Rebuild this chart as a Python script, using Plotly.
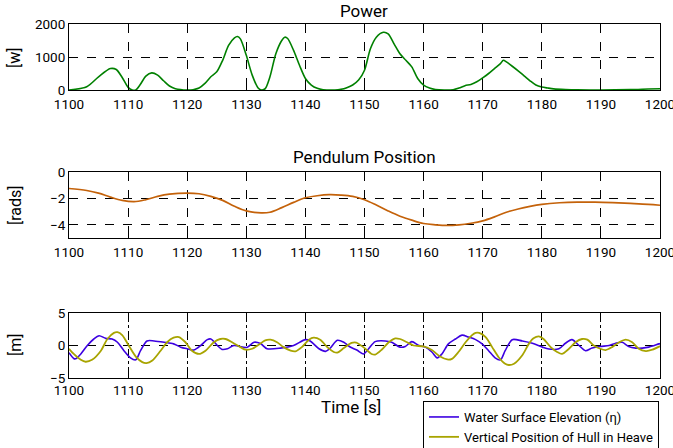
import plotly.graph_objects as go

# ---------------- data ----------------
power_t = [1100, 1103, 1105, 1107, 1108, 1109, 1110, 1110.7, 1111.3, 1112, 1113, 1114, 1115, 1116, 1117, 1118,
           1120, 1121, 1122, 1123, 1124, 1125, 1126, 1127, 1128, 1128.5, 1129, 1130, 1131, 1132, 1132.6, 1133.2,
           1134, 1135, 1136, 1136.5, 1137, 1138, 1139, 1140, 1141, 1142, 1143, 1145, 1146, 1147, 1148, 1149,
           1150, 1151, 1152, 1153.2, 1154, 1155, 1156, 1157, 1158, 1159, 1160, 1161, 1162, 1163.5, 1165, 1166,
           1167, 1168, 1169, 1170, 1171, 1172, 1173, 1173.5, 1174, 1175, 1176, 1177, 1178, 1179, 1180, 1181,
           1182, 1184, 1186, 1190, 1195, 1198, 1200]
power_w = [0, 100, 400, 650, 620, 380, 80, 0, 0, 150, 420, 520, 450, 280, 120, 40,
           0, 10, 60, 200, 400, 550, 900, 1350, 1580, 1620, 1550, 1050, 450, 60, 0, 40,
           400, 1100, 1500, 1600, 1560, 1200, 750, 350, 150, 50, 10, 0, 20, 70, 150, 300,
           600, 1250, 1600, 1750, 1700, 1400, 1100, 900, 700, 350, 150, 60, 15, 0, 10, 60,
           130, 170, 250, 370, 500, 650, 800, 900, 850, 720, 580, 430, 280, 150, 90, 60,
           35, 15, 5, 0, 10, 30, 40]

pend_t = [1100, 1103, 1105, 1107, 1109, 1111, 1113, 1115, 1117, 1120, 1122, 1124, 1126, 1128, 1130, 1132.5,
          1134, 1136, 1138, 1140, 1142, 1144, 1146, 1148, 1150, 1152, 1154, 1156, 1158, 1160, 1162, 1164,
          1166, 1168, 1170, 1172, 1174, 1176, 1178, 1180, 1183, 1186, 1189, 1192, 1195, 1198, 1200]
pend_rad = [-1.25, -1.4, -1.6, -1.9, -2.15, -2.25, -2.1, -1.85, -1.68, -1.6, -1.65, -1.85, -2.15, -2.6, -2.95, -3.1,
            -3.05, -2.7, -2.3, -1.95, -1.8, -1.72, -1.75, -1.85, -2.1, -2.5, -2.95, -3.35, -3.65, -3.9, -4.0, -4.05,
            -4.0, -3.88, -3.7, -3.4, -3.05, -2.8, -2.6, -2.45, -2.33, -2.28, -2.28, -2.32, -2.38, -2.45, -2.52]

wave_t = [1100, 1100.8, 1101.1, 1102, 1103.1, 1104.2, 1105.1, 1106.2, 1107.3, 1108.2, 1109.3, 1110.4, 1111.3,
          1112.1, 1113.2, 1114.4, 1116.1, 1117.7, 1118.9, 1120, 1121.1, 1122.3, 1123.4, 1124, 1125.1, 1125.9,
          1126.8, 1127.9, 1130.1, 1131.3, 1132.4, 1133.5, 1135.8, 1138, 1140, 1140.8, 1142.3, 1143.4, 1144.2,
          1145.4, 1146.5, 1147.5, 1148.7, 1149.8, 1150.7, 1151.8, 1153.5, 1154.6, 1156, 1156.9, 1158, 1159.2,
          1160.3, 1161.4, 1162.3, 1163.1, 1164.2, 1165.4, 1166.5, 1167.6, 1168.8, 1169.9, 1171, 1172.1, 1173,
          1173.8, 1175, 1176.7, 1178.4, 1180.1, 1181.2, 1182.9, 1184, 1185.1, 1186.3, 1187.4, 1188.5, 1189.9,
          1191.4, 1192.5, 1193.6, 1194.7, 1195.9, 1197, 1198.1, 1199.8, 1200]
wave_m = [-1.1, -2.0, -2.05, -1.3, 0.0, 1.0, 1.5, 1.1, 1.0, 0.5, -0.8, -1.9, -2.2,
          -0.8, 0.7, 0.7, 0.5, 0.25, -0.25, -0.5, -0.7, 0.0, 0.9, 1.0, 0.0, -0.6,
          -0.5, 0.0, -0.3, 0.5, 0.3, -0.5, -0.4, 0.0, 0.9, 0.7, -0.5, -0.9, -0.4,
          0.8, 0.5, -0.2, -0.7, -1.3, -0.5, 0.6, 0.7, 0.5, -0.25, -0.15, 0.6, 0.0,
          -0.25, -1.0, -1.9, -1.3, 0.25, 1.0, 1.6, 1.3, 0.9, 0.25, -0.8, -1.9, -2.2,
          -0.8, 0.9, 0.7, 0.35, -0.25, -0.55, -0.5, 0.35, 0.9, 0.0, -0.8, -0.4, -0.15,
          0.0, 0.35, 0.5, -0.15, -0.4, -0.4, -0.25, 0.25, 0.3]

hull_t = [1100, 1100.8, 1102, 1102.8, 1103.9, 1105.4, 1106.5, 1107.6, 1108.2, 1109, 1110.1, 1111.3, 1112.4,
          1113.1, 1114.1, 1115.5, 1116.6, 1117.7, 1118.6, 1119.7, 1120.8, 1122, 1123.1, 1124.5, 1125.6, 1126.5,
          1127.6, 1129, 1129.9, 1131, 1132.1, 1133.2, 1134.1, 1135.2, 1136.3, 1137.5, 1138.3, 1139.4, 1140.6,
          1141.4, 1142.5, 1143.7, 1144.8, 1145.4, 1146.5, 1147.8, 1148.6, 1149.8, 1151.2, 1151.8, 1152.9, 1154.1,
          1155.2, 1156, 1157.2, 1158.3, 1160, 1161.4, 1162.8, 1164, 1164.8, 1165.9, 1167.1, 1168.2, 1168.8,
          1169.4, 1170.5, 1171.6, 1172.7, 1173.8, 1174.4, 1175.3, 1176.7, 1177.8, 1178.6, 1179.5, 1180.3, 1181.5,
          1182.6, 1183.4, 1184.6, 1185.7, 1186.8, 1187.7, 1188.8, 1189.9, 1190.8, 1191.9, 1193.1, 1194.2, 1195.3,
          1196.4, 1197.6, 1198.7, 1200]
hull_m = [-0.5, -1.3, -2.2, -2.5, -2.2, -0.8, 1.0, 1.95, 2.05, 1.6, 0.0, -1.7, -2.55,
          -2.7, -2.3, -0.8, 0.5, 1.2, 1.3, 0.5, -0.8, -1.3, -0.8, 0.5, 1.0, 1.0,
          0.5, -0.25, -0.65, -0.5, 0.1, 0.8, 0.9, 0.5, -0.25, -0.8, -0.9, -0.25, 0.9,
          1.2, 0.9, -0.25, -1.0, -1.1, -0.4, 0.4, 0.45, -0.25, -1.3, -1.4, -0.65, 0.5,
          1.1, 1.0, 0.5, 0.0, -0.15, -0.7, -1.7, -2.15, -2.05, -1.0, 0.5, 1.6, 1.95,
          1.95, 1.3, -0.25, -1.8, -2.8, -3.0, -2.8, -1.5, 0.25, 1.1, 1.4, 1.0, -0.25,
          -1.0, -1.3, -0.5, 0.5, 1.0, 0.9, 0.0, -0.5, -0.7, -0.25, 0.5, 0.9, 0.5,
          -0.5, -0.85, -0.65, -0.1]

x_ticks = [1100, 1110, 1120, 1130, 1140, 1150, 1160, 1170, 1180, 1190, 1200]
power_ticks = [0, 1000, 2000]
pend_ticks = [-4, -2, 0]
heave_ticks = [-5, 0, 5]

# ---------------- figure ----------------
W, H = 673, 448
FONT = "Roboto"
fig = go.Figure()

fig.add_trace(go.Scatter(x=power_t, y=power_w, mode="lines",
                         line=dict(color="rgb(0,128,0)", width=1.6, shape="spline", smoothing=0.8),
                         xaxis="x", yaxis="y", showlegend=False))
fig.add_trace(go.Scatter(x=pend_t, y=pend_rad, mode="lines",
                         line=dict(color="rgb(196,98,10)", width=1.7, shape="spline"),
                         xaxis="x2", yaxis="y2", showlegend=False))
fig.add_trace(go.Scatter(x=wave_t, y=wave_m, mode="lines",
                         line=dict(color="rgb(60,0,225)", width=1.6, shape="spline", smoothing=0.8),
                         xaxis="x3", yaxis="y3", name="Water Surface Elevation (η)"))
fig.add_trace(go.Scatter(x=hull_t, y=hull_m, mode="lines",
                         line=dict(color="rgb(168,164,0)", width=1.8, shape="spline", smoothing=0.8),
                         xaxis="x3", yaxis="y3", name="Vertical Position of Hull in Heave"))

xdom = [69 / W, 660 / W]
def py(p):
    return 1 - p / H

axcommon = dict(showline=True, linecolor="black", linewidth=1, mirror=True,
                ticks="inside", ticklen=4, tickcolor="black", automargin=False,
                ticklabeloverflow="allow",
                showgrid=True, gridcolor="black", gridwidth=1,
                zeroline=False, tickfont=dict(family=FONT, size=13.5, color="black"))

for i, (yr, ytk, dom) in enumerate([
        ([0, 2000], power_ticks, [py(90), py(24)]),
        ([-5, 0], pend_ticks, [py(238), py(172)]),
        ([-5, 5], heave_ticks, [py(378), py(313)])]):
    s = "" if i == 0 else str(i + 1)
    fig.layout["xaxis" + s] = dict(domain=xdom, range=[1100, 1200], tickvals=x_ticks,
                                   anchor="y" + s, griddash=("dashdot" if i == 2 else "dash"),
                                   ticklabelstandoff=(0 if i == 2 else 2), **axcommon)
    fig.layout["yaxis" + s] = dict(domain=dom, range=yr, tickvals=ytk, griddash="dash",
                                   anchor="x" + s, **axcommon)

ann = []
def addtext(text, x, y, size, angle=0):
    ann.append(dict(text=text, x=x / W, y=py(y), xref="paper", yref="paper", showarrow=False,
                    xanchor="center", yanchor="middle", textangle=angle,
                    font=dict(family=FONT, size=size, color="black")))

addtext("Power", 364, 11, 17)
addtext("Pendulum Position", 364, 157, 17)
addtext("Time [s]", 351, 407, 17)
addtext("[w]", 15, 58, 16, -90)
addtext("[rads]", 15, 205, 16, -90)
addtext("[m]", 15, 345, 16, -90)

fig.update_layout(
    width=W, height=H, margin=dict(l=0, r=0, t=0, b=0, pad=0, autoexpand=False),
    paper_bgcolor="white", plot_bgcolor="white",
    annotations=ann,
    legend=dict(x=423 / W, y=py(401), xanchor="left", yanchor="top",
                bordercolor="black", borderwidth=1, bgcolor="white",
                font=dict(family=FONT, size=13, color="black"),
                tracegroupgap=0, itemwidth=30),
)

fig.write_html("out.html", config={"displayModeBar": False},
               post_script="document.body.style.margin='0px';document.body.style.overflow='hidden';")
